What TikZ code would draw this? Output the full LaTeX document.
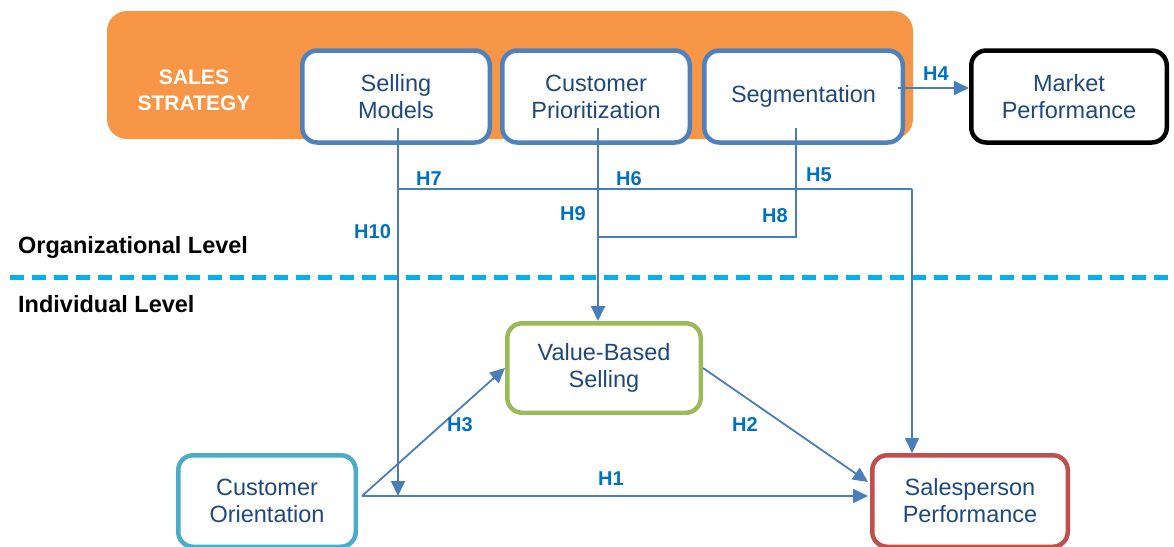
\documentclass[tikz,border=0pt]{standalone}
\usepackage{fontspec}
\setmainfont{Liberation Sans}
\usetikzlibrary{arrows.meta,calc}
\definecolor{stratorange}{HTML}{F79646}
\definecolor{boxblue}{HTML}{4F81BD}
\definecolor{linkblue}{HTML}{4A7EBB}
\definecolor{textblue}{HTML}{1F497D}
\definecolor{hypblue}{HTML}{0070C0}
\definecolor{levelcyan}{HTML}{00B0F0}
\definecolor{vbsgreen}{HTML}{9BBB59}
\definecolor{coteal}{HTML}{4BACC6}
\definecolor{spred}{HTML}{C0504D}

\begin{document}
\begin{tikzpicture}[x=1pt,y=-1pt,
  construct/.style={draw=#1, line width=4.5pt, rounded corners=15pt, fill=white,
    align=center, text=textblue, font=\fontsize{23.5}{27}\selectfont,
    minimum height=92pt, inner sep=0pt},
  link/.style={draw=linkblue, line width=1.8pt},
  linkarrow/.style={link, -{Triangle[length=15pt,width=14pt]}},
  hyp/.style={text=hypblue, font=\bfseries\fontsize{20}{22}\selectfont, inner sep=0pt},
  level/.style={font=\bfseries\fontsize{23.5}{26}\selectfont, inner sep=0pt, anchor=base west},
]
\useasboundingbox (0,0) rectangle (1174,546);
\clip (0,0) rectangle (1174,546);

% sales strategy band
\node (strategy) [fill=stratorange, rounded corners=20pt, minimum width=806pt,
  minimum height=128pt, inner sep=0pt] at (510,75) {};
\node (stratlabel) [text=white, align=center, font=\bfseries\fontsize{21}{26}\selectfont]
  at (194,90) {SALES\\STRATEGY};

% strategy constructs
\node (sm) [construct=boxblue, minimum width=187.5pt] at (396,96.5) {Selling\\Models};
\node (cp) [construct=boxblue, minimum width=187.5pt] at (596,96.5) {Customer\\Prioritization};
\node (sg) [construct=boxblue, minimum width=198.5pt] at (803.5,96.5) {Segmentation};
\node (mp) [construct=black, minimum width=195.5pt] at (1069,96.5) {Market\\Performance};

% individual constructs
\node (vbs) [construct=vbsgreen, minimum width=193.5pt, minimum height=89.5pt] at (604,368) {Value-Based\\Selling};
\node (co) [construct=coteal, minimum width=177.5pt, minimum height=91.5pt] at (267,501) {Customer\\Orientation};
\node (sp) [construct=spred, minimum width=195.5pt, minimum height=91.5pt] at (970,501) {Salesperson\\Performance};

% level separator
\coordinate (levelL) at (10,277);
\coordinate (levelR) at (1174,277);
\draw[levelcyan, line width=5pt, dash pattern=on 14pt off 8pt] (levelL) -- (levelR);
\node (orglevel) [level] at (18,253) {Organizational Level};
\node (indlevel) [level] at (18,312) {Individual Level};

% junction points of the strategy paths
\coordinate (smfoot) at (398,128);
\coordinate (cpfoot) at (598,128);
\coordinate (sgfoot) at (796,128);
\coordinate (busL) at (398,189);
\coordinate (busR) at (912,189);
\coordinate (segjoin) at (796,237);

% H4
\draw[linkarrow] ($(sg.east)+(-7,-8.5)$) -- ($(mp.west)+(0,-8.5)$);
% H5 / H6 / H7 bus to salesperson performance
\draw[link] (busL) -- (busR);
\draw[linkarrow] (busR) -- (busR |- sp.north);
% H8 segmentation to prioritization path
\draw[link] (sgfoot) -- (segjoin) -- (segjoin -| cpfoot);
% H9 prioritization to value-based selling
\draw[linkarrow] (cpfoot) -- (cpfoot |- vbs.north);
% H10 selling models onto the H1 path
\draw[linkarrow] (smfoot) -- (smfoot |- 0,496);
% H1, H2, H3
\draw[linkarrow] ($(co.east)+(4,-5)$) -- ($(sp.west)+(-2,-5)$);
\draw[linkarrow] ($(co.east)+(4,-5)$) -- (vbs.west);
\draw[linkarrow] (vbs.east) -- ($(sp.west)+(-2,-19)$);

% hypothesis labels
\node (h1) [hyp, anchor=base west] at (598,485) {H1};
\node (h2) [hyp, anchor=base west] at (732,431) {H2};
\node (h3) [hyp, anchor=base west] at (447,431) {H3};
\node (h4) [hyp, anchor=base west] at (923,80) {H4};
\node (h5) [hyp, anchor=base west] at (806,181) {H5};
\node (h6) [hyp, anchor=base west] at (616,185) {H6};
\node (h7) [hyp, anchor=base west] at (416,185) {H7};
\node (h8) [hyp, anchor=base east] at (788,222) {H8};
\node (h9) [hyp, anchor=base east] at (586,220) {H9};
\node (h10) [hyp, anchor=base west] at (354,238) {H10};
\end{tikzpicture}
\end{document}
